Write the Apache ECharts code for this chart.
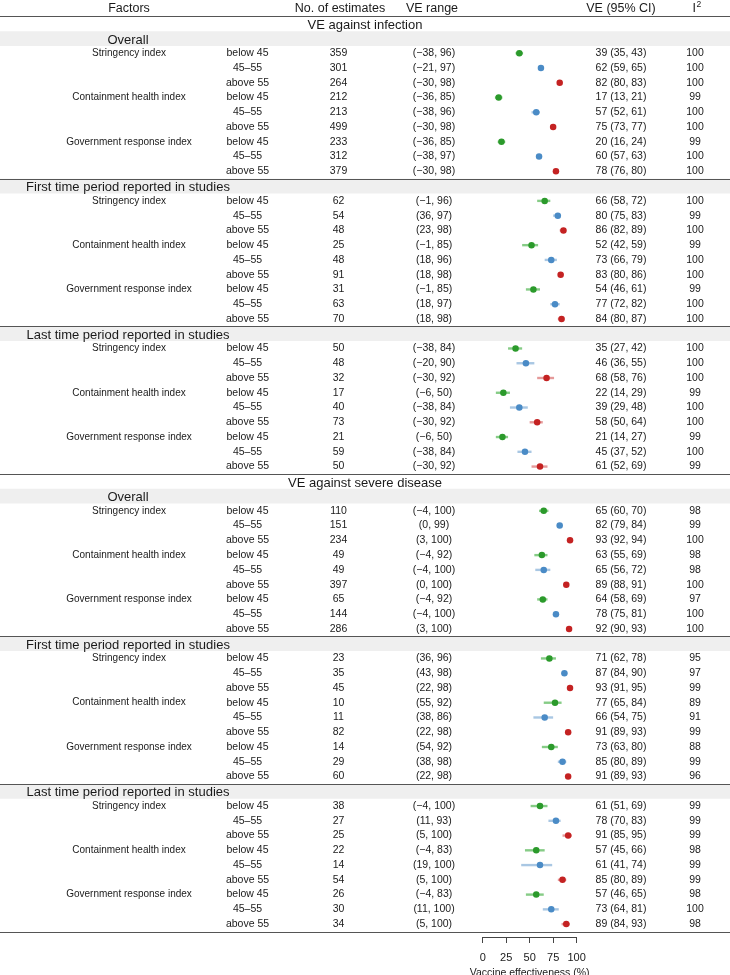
<!DOCTYPE html>
<html><head><meta charset="utf-8">
<script src="https://cdn.jsdelivr.net/npm/echarts@6/dist/echarts.min.js"></script>
<style>html,body{margin:0;padding:0;background:#fff}#c{width:730px;height:975px}</style>
</head><body><div id="c"></div>
<script>
const outcomes = ['VE against infection', 'VE against severe disease'];
const periods = ['Overall', 'First time period reported in studies', 'Last time period reported in studies'];
const indices = ['Stringency index', 'Containment health index', 'Government response index'];
const groups = ['below 45', '45\u201355', 'above 55'];
const headers = ['Factors', 'No. of estimates', 'VE range', 'VE (95% CI)', 'I'];
const xTicks = [0, 25, 50, 75, 100];

const nEstimates = [359,301,264,212,213,499,233,312,379, 62,54,48,25,48,91,31,63,70, 50,48,32,17,40,73,21,59,50,
                    110,151,234,49,49,397,65,144,286, 23,35,45,10,11,82,14,29,60, 38,27,25,22,14,54,26,30,34];
const rangeLo = [-38,-21,-30,-36,-38,-30,-36,-38,-30, -1,36,23,-1,18,18,-1,18,18, -38,-20,-30,-6,-38,-30,-6,-38,-30,
                 -4,0,3,-4,-4,0,-4,-4,3, 36,43,22,55,38,22,54,38,22, -4,11,5,-4,19,5,-4,11,5];
const rangeHi = [96,97,98,85,96,98,85,97,98, 96,97,98,85,96,98,85,97,98, 84,90,92,50,84,92,50,84,92,
                 100,99,100,92,100,100,92,100,100, 96,98,98,92,86,98,92,98,98, 100,93,100,83,100,100,83,100,100];
const ve = [39,62,82,17,57,75,20,60,78, 66,80,86,52,73,83,54,77,84, 35,46,68,22,39,58,21,45,61,
            65,82,93,63,65,89,64,78,92, 71,87,93,77,66,91,73,85,91, 61,78,91,57,61,85,57,73,89];
const ciLo = [35,59,80,13,52,73,16,57,76, 58,75,82,42,66,80,46,72,80, 27,36,58,14,29,50,14,37,52,
              60,79,92,55,56,88,58,75,90, 62,84,91,65,54,89,63,80,89, 51,70,85,45,41,80,46,64,84];
const ciHi = [43,65,83,21,61,77,24,63,80, 72,83,89,59,79,86,61,82,87, 42,55,76,29,48,64,27,52,69,
              70,84,94,69,72,91,69,81,93, 78,90,95,84,75,93,80,89,93, 69,83,95,66,74,89,65,81,93];
const i2 = [100,100,100,99,100,100,99,100,100, 100,99,100,99,100,100,99,100,100, 100,100,100,99,100,100,99,100,99,
            98,99,100,98,98,100,97,100,100, 95,97,99,89,91,99,88,99,96, 99,99,99,98,99,99,98,100,98];

const dotColors = ['#2b9a2b', '#4a8bc6', '#c42222'];
const barColors = ['#86cc86', '#a9c7e3', '#e59a9a'];
const FONT = '"Liberation Sans", Arial, Helvetica, sans-serif';
const TXT = '#1a1a1a';

// layout
const ROW0 = 9, STEP = 14.76;
const COL = {factor: 129, group: 247.5, n: 338.5, range: 434, ci: 621, i2: 695};

const texts = [], bands = [], lines = [0.5];
const bars = [[], [], []], pts = [[], [], []];
// header
texts.push({row: 0, x: COL.factor, t: headers[0], size: 12.5, align: 'center'});
texts.push({row: 0, x: 340, t: headers[1], size: 12.5, align: 'center'});
texts.push({row: 0, x: 432, t: headers[2], size: 12.5, align: 'center'});
texts.push({row: 0, x: COL.ci, t: headers[3], size: 12.5, align: 'center'});
texts.push({row: 0, x: 692.5, t: headers[4], size: 12.5, align: 'left'});
texts.push({row: 0, x: 696.5, t: '2', size: 8.5, align: 'left', dy: -4});

let r = 1;
outcomes.forEach((o, oi) => {
  texts.push({row: r, x: 365, t: o, size: 13, align: 'center', dy: 2});
  r++;
  periods.forEach((p, pi) => {
    bands.push(r);
    texts.push({row: r, x: 128, t: p, size: 13, align: 'center', dy: 1.5});
    r++;
    indices.forEach((ix, ki) => {
      groups.forEach((g, gi) => {
        const d = ((oi * 3 + pi) * 3 + ki) * 3 + gi;
        if (gi === 0) texts.push({row: r, x: COL.factor, t: ix, size: 10, align: 'center'});
        texts.push({row: r, x: COL.group, t: g, size: 10.5, align: 'center'});
        texts.push({row: r, x: COL.n, t: String(nEstimates[d]), size: 10.5, align: 'center'});
        const f = v => (v < 0 ? '\u2212' + (-v) : String(v));
        texts.push({row: r, x: COL.range, t: '(' + f(rangeLo[d]) + ', ' + f(rangeHi[d]) + ')', size: 10.5, align: 'center'});
        texts.push({row: r, x: COL.ci, t: ve[d] + ' (' + ciLo[d] + ', ' + ciHi[d] + ')', size: 10.5, align: 'center'});
        texts.push({row: r, x: COL.i2, t: String(i2[d]), size: 10.5, align: 'center'});
        bars[gi].push([ciLo[d], ciHi[d], r]);
        pts[gi].push([ve[d], r]);
        r++;
      });
    });
    lines.push(r - 0.5);
  });
});
const NROWS = r;

const chart = echarts.init(document.getElementById('c'), null, {renderer: 'canvas'});
const series = [];
series.push({
  type: 'custom', z: 1, silent: true, clip: false,
  data: bands.map(b => [0, b]),
  renderItem: (params, api) => {
    const y = api.coord([0, api.value(1)])[1];
    return {type: 'rect', shape: {x: 0, y: y - STEP / 2, width: 730, height: STEP}, style: {fill: '#efefef'}};
  }
});
series.push({
  type: 'custom', z: 2, silent: true, clip: false,
  data: lines.map(l => [0, l]),
  renderItem: (params, api) => {
    const y = Math.round(api.coord([0, api.value(1)])[1]) + 0.5;
    return {type: 'line', shape: {x1: 0, y1: y, x2: 730, y2: y}, style: {stroke: '#555', lineWidth: 1}};
  }
});
[0, 1, 2].forEach(gi => {
  series.push({
    type: 'custom', z: 3, silent: true, clip: false,
    data: bars[gi],
    renderItem: (params, api) => {
      const a = api.coord([api.value(0), api.value(2)]);
      const b = api.coord([api.value(1), api.value(2)]);
      return {type: 'line', shape: {x1: a[0], y1: a[1], x2: b[0], y2: b[1]}, style: {stroke: barColors[gi], lineWidth: 2.4}};
    }
  });
  series.push({
    type: 'scatter', z: 4, silent: true, symbol: 'circle', symbolSize: 6.5,
    itemStyle: {color: dotColors[gi], opacity: 1},
    data: pts[gi]
  });
});
series.push({
  type: 'custom', z: 5, silent: true, clip: false,
  data: texts.map(t => [0, t.row]),
  renderItem: (params, api) => {
    const t = texts[params.dataIndex];
    const y = api.coord([0, t.row])[1] + (t.dy || 0);
    return {type: 'text', style: {text: t.t, x: t.x, y: y, align: t.align, verticalAlign: 'middle',
      fontSize: t.size, fontFamily: FONT, fill: TXT}};
  }
});

chart.setOption({
  animation: false,
  backgroundColor: '#fff',
  grid: {left: 482.7, width: 93.9, top: ROW0 - STEP / 2, height: STEP * NROWS, containLabel: false, outerBoundsMode: 'none'},
  xAxis: {
    type: 'value', min: xTicks[0], max: xTicks[xTicks.length - 1], interval: 25, position: 'bottom', offset: 5.5,
    axisLine: {show: true, onZero: false, lineStyle: {color: '#444', width: 1}},
    axisTick: {show: true, length: 6, lineStyle: {color: '#444'}},
    axisLabel: {fontSize: 11, color: TXT, margin: 15, fontFamily: FONT},
    splitLine: {show: false},
    name: 'Vaccine effectiveness (%)', nameLocation: 'middle', nameGap: 24,
    nameTextStyle: {fontSize: 10.5, color: TXT, fontFamily: FONT}
  },
  yAxis: {type: 'value', min: -0.5, max: NROWS - 0.5, inverse: true, show: false},
  series: series
});
</script></body></html>
